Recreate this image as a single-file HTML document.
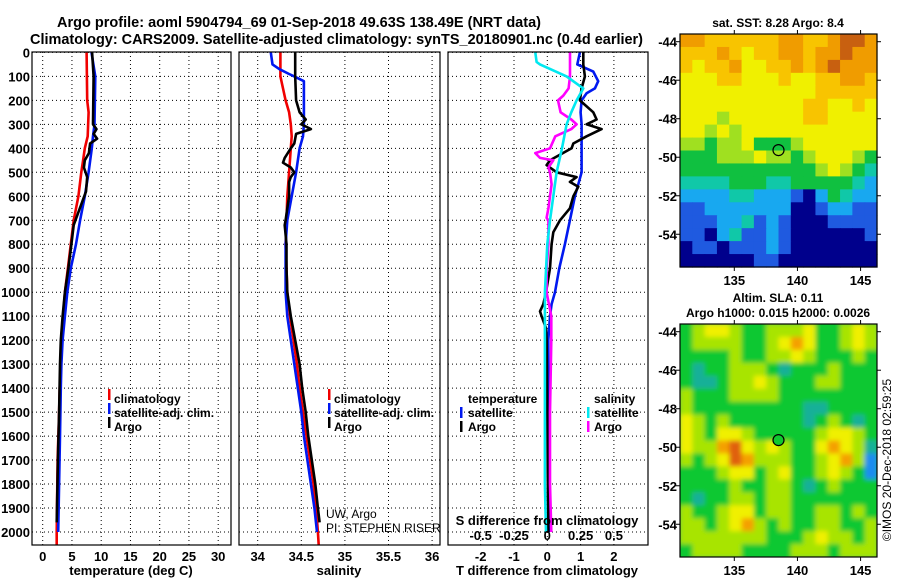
<!DOCTYPE html>
<html><head><meta charset="utf-8"><style>
html,body{margin:0;padding:0;background:#fff;}
svg{display:block;font-family:"Liberation Sans",sans-serif;}
</style></head><body>
<svg id="fig" width="900" height="580" viewBox="0 0 900 580" xmlns="http://www.w3.org/2000/svg">
<defs>
<filter id="blur" x="-5%" y="-5%" width="110%" height="110%"><feGaussianBlur stdDeviation="2.5"/></filter>
<clipPath id="slaClip"><rect x="680" y="324" width="197" height="233"/></clipPath>
</defs>
<text x="57" y="27" font-size="15" font-weight="bold" textLength="484" lengthAdjust="spacingAndGlyphs">Argo profile: aoml 5904794_69 01-Sep-2018 49.63S 138.49E (NRT data)</text>
<text x="30" y="44" font-size="15" font-weight="bold" textLength="613" lengthAdjust="spacingAndGlyphs">Climatology: CARS2009. Satellite-adjusted climatology: synTS_20180901.nc (0.4d earlier)</text>
<g id="g"></g>
</svg>
<script>
// ---------- data ----------
const depthTicks=[0,100,200,300,400,500,600,700,800,900,1000,1100,1200,1300,1400,1500,1600,1700,1800,1900,2000];
const tempTicks=[0,5,10,15,20,25,30];
const salTicks=[34,34.5,35,35.5,36];
const salTickLabels=["34","34.5","35","35.5","36"];
const tdiffTicks=[-2,-1,0,1,2];
const sdiffTicks=[-0.5,-0.25,0,0.25,0.5];
const sdiffTickLabels=["-0.5","-0.25","0","0.25","0.5"];

const tClimDepth=[0,200,250,350,400,450,500,600,700,800,900,1000,1100,1200,1400,1500,1700,1800,2000,2054];
const tClimVal=[7.5,7.6,7.85,7.7,7.2,6.9,6.6,6.1,5.3,4.8,4.3,3.8,3.5,3.2,2.9,2.8,2.55,2.5,2.4,2.4];
const tSatDepth=[0,100,300,350,400,500,600,700,800,900,1000,1100,1200,1300,1400,1600,1800,2000];
const tSatVal=[8.35,9.0,8.85,8.6,8.4,7.85,7.2,6.4,5.7,4.8,4.2,3.8,3.4,3.2,3.1,2.95,2.8,2.65];
const tArgoDepth=[0,100,300,320,340,360,380,420,450,480,520,580,640,720,800,900,1000,1100,1200,1300,1500,1700,1900,1960];
const tArgoVal=[8.45,8.7,8.6,9.2,8.7,9.3,8.1,7.9,7.2,7.05,7.6,7.4,6.5,5.3,4.9,4.4,3.8,3.4,3.1,2.95,2.8,2.6,2.45,2.4];

const sClimDepth=[0,100,150,200,250,300,350,400,500,600,700,800,900,1000,1100,1200,1300,1400,1500,1600,1700,1800,1900,2000,2054];
const sClimVal=[34.26,34.26,34.29,34.32,34.36,34.38,34.39,34.38,34.36,34.34,34.33,34.32,34.33,34.34,34.37,34.41,34.45,34.48,34.52,34.56,34.6,34.64,34.67,34.69,34.7];
const sSatDepth=[0,50,70,90,100,120,300,350,400,500,600,700,800,900,1000,1100,1200,1300,1400,1500,1600,1700,1800,1900,2000];
const sSatVal=[34.15,34.17,34.25,34.36,34.42,34.53,34.53,34.52,34.48,34.44,34.39,34.34,34.32,34.32,34.32,34.34,34.38,34.42,34.46,34.5,34.53,34.57,34.61,34.65,34.68];
const sArgoDepth=[0,100,200,250,280,300,320,340,380,400,440,460,480,500,520,540,600,650,700,720,760,800,900,1000,1100,1200,1300,1400,1500,1600,1700,1800,1900,1960];
const sArgoVal=[34.43,34.43,34.44,34.48,34.55,34.5,34.61,34.44,34.42,34.38,34.31,34.29,34.38,34.42,34.38,34.36,34.36,34.34,34.32,34.31,34.32,34.33,34.33,34.34,34.38,34.43,34.48,34.51,34.55,34.58,34.62,34.66,34.69,34.71];

const dtSatDepth=[0,50,80,120,150,170,200,250,300,500,550,600,700,800,900,1000,1050,1100,1200,1400,1700,2000];
const dtSatVal=[0.98,0.9,1.38,1.53,1.43,1.18,1.03,1.0,1.03,1.03,0.93,0.83,0.68,0.53,0.36,0.23,0.13,0.08,0.03,0.03,0.03,0.06];
const dtArgoDepth=[0,50,100,150,200,250,280,300,320,350,380,400,450,470,500,520,540,560,600,650,700,750,800,900,1000,1050,1080,1100,1150,1200,1500,2000];
const dtArgoVal=[1.08,1.08,1.13,1.03,0.98,1.38,1.48,1.18,1.63,1.18,0.78,0.73,0.08,-0.02,0.28,0.88,0.68,0.93,0.78,0.68,0.38,0.18,0.13,0.08,-0.04,-0.12,-0.22,-0.17,-0.04,-0.02,0.0,0.03];
const dsSatDepth=[0,40,50,100,150,160,200,250,300,400,500,600,700,800,1000,1200,1500,1800,2000];
const dsSatVal=[-0.09,-0.08,-0.055,0.145,0.27,0.26,0.22,0.18,0.145,0.11,0.07,0.045,0.02,0.0,-0.018,-0.018,-0.018,-0.018,-0.01];
const dsArgoDepth=[0,100,150,180,200,250,280,300,320,350,400,420,440,450,480,500,550,650,690,700,800,900,1000,1100,1200,1500,1800,2000];
const dsArgoVal=[0.17,0.17,0.16,0.12,0.08,0.1,0.18,0.22,0.18,0.06,0.02,-0.09,-0.055,0.045,0.008,0.02,0.032,0.008,-0.005,0.008,0.008,-0.005,-0.005,0.03,0.03,0.02,0.02,0.03];

// map grids (colour-class indices)
const sstGrid=[
"8877777788778998","7778767788788988","7677866778789888","6667766676677887",
"6666666666677777","6666666666776676","6665666666776666","6656566666666666",
"5545564445666666","4445556554566654","4444444444456543","3333444334444432",
"2222332221024322","1122222220012211","1112231210001111","1102311210000001",
"0110111210000000","0000001100000000"];
const slaGrid=[
"2344322333422343","2333322345422343","2222322334322232","2122333212223222",
"2112334322233222","3222333322222222","3222222222112222","4323222222123212",
"4324432222234432","4335643432245431","3234653332234530","2223442342234320",
"2222322332123222","2122332332222222","3223442332233232","3323453232233223",
"3333333222343323","2333322223332333"];
const sstColors=["#00008c","#1f5ae0","#18a8f0","#10c8a8","#10c040","#a0e020","#f0f000","#f8c400","#f09c00","#c86010"];
const slaColors=["#1a8cf0","#18b098","#10c830","#a8e400","#f0f000","#f4a000","#e06010"];
const lonTicks=[135,140,145];
const latTicks=[-44,-46,-48,-50,-52,-54];
const argoLon=138.5, argoLat=-49.63;

// ---------- helpers ----------
const NS="http://www.w3.org/2000/svg";
const G=document.getElementById('g');
function mk(tag,attrs,parent){const e=document.createElementNS(NS,tag);for(const k in attrs)e.setAttribute(k,attrs[k]);(parent||G).appendChild(e);return e;}
const yTop=52.4, yPerM=0.2398;
function yD(d){return yTop+d*yPerM;}
const boxTop=52, boxBot=545;

function panel(x0,x1,xs,ticks,labels,name){
  for(const t of ticks){
    const x=xs(t);
    const l=mk('line',{x1:x,x2:x,y1:boxTop,y2:boxBot,stroke:'#000','stroke-width':1,'stroke-dasharray':'1,3'});
    
    
  }
  for(const d of depthTicks){
    const y=yD(d);
    const l=mk('line',{x1:x0,x2:x1,y1:y,y2:y,stroke:'#000','stroke-width':1,'stroke-dasharray':'1,3'});
    
    
  }
  ticks.forEach((t,i)=>{
    const tx=mk('text',{x:xs(t),y:561,'font-size':13,'font-weight':'bold','text-anchor':'middle'});
    tx.textContent=labels[i];
    
    
  });
}
function series(dep,val,xs,color,name){
  const pts=dep.map((d,i)=>xs(val[i]).toFixed(1)+','+yD(d).toFixed(1)).join(' ');
  const p=mk('polyline',{points:pts,fill:'none',stroke:color,'stroke-width':2.6,'stroke-linejoin':'round'});
  
  
}
function frame(x0,x1,name){
  const r=mk('rect',{x:x0,y:boxTop,width:x1-x0,height:boxBot-boxTop,fill:'none',stroke:'#000','stroke-width':1.2});
  
  
}
function txt(x,y,s,size,weight,name,anchor){
  const t=mk('text',{x:x,y:y,'font-size':size,'font-weight':weight||'bold','text-anchor':anchor||'start'});
  t.textContent=s;
  
  
  return t;
}
function legendBar(x,y,color,name){
  const r=mk('rect',{x:x,y:y-10,width:2.5,height:11,fill:color});
  
  
}

// ---------- panel 1: temperature ----------
const xT=t=>42.7+t*5.85;
panel(32,231,xT,tempTicks,tempTicks.map(String),'temp');
depthTicks.forEach(d=>{ txt(30,yD(d)+5,String(d),13,'bold','depth-tick-label','end'); });
series(tClimDepth,tClimVal,xT,'#f00000','temp-climatology-line');
series(tSatDepth,tSatVal,xT,'#0018f0','temp-satellite-line');
series(tArgoDepth,tArgoVal,xT,'#000','temp-argo-line');
frame(32,231,'temp-plot-frame');
txt(131,575,'temperature (deg C)',13,'bold','temp-x-axis-title','middle');
legendBar(108,399,'#f00000','temp-legend-clim-swatch');txt(114,403,'climatology',12,'bold','temp-legend-climatology');
legendBar(108,413,'#0018f0','temp-legend-sat-swatch');txt(114,417,'satellite-adj. clim.',12,'bold','temp-legend-satellite');
legendBar(108,427,'#000','temp-legend-argo-swatch');txt(114,431,'Argo',12,'bold','temp-legend-argo');

// ---------- panel 2: salinity ----------
const xS=s=>257.7+(s-34)*87.2;
panel(239,440,xS,salTicks,salTickLabels,'sal');
series(sClimDepth,sClimVal,xS,'#f00000','sal-climatology-line');
series(sSatDepth,sSatVal,xS,'#0018f0','sal-satellite-line');
series(sArgoDepth,sArgoVal,xS,'#000','sal-argo-line');
frame(239,440,'sal-plot-frame');
txt(339,575,'salinity',13,'bold','sal-x-axis-title','middle');
legendBar(328,399,'#f00000','sal-legend-clim-swatch');txt(334,403,'climatology',12,'bold','sal-legend-climatology');
legendBar(328,413,'#0018f0','sal-legend-sat-swatch');txt(334,417,'satellite-adj. clim.',12,'bold','sal-legend-satellite');
legendBar(328,427,'#000','sal-legend-argo-swatch');txt(334,431,'Argo',12,'bold','sal-legend-argo');
txt(326,518,'UW, Argo',12,'normal','float-owner');
txt(326,532,'PI: STEPHEN RISER',12,'normal','float-pi');

// ---------- panel 3: differences ----------
const xDT=t=>547.3+t*33.3;
const xDS=s=>547.3+s*133.3;
panel(448,648,xDT,tdiffTicks,tdiffTicks.map(String),'diff');
series(dtSatDepth,dtSatVal,xDT,'#0018f0','diff-temp-satellite-line');
series(dtArgoDepth,dtArgoVal,xDT,'#000','diff-temp-argo-line');
series(dsArgoDepth,dsArgoVal,xDS,'#ff00ff','diff-sal-argo-line');
series(dsSatDepth,dsSatVal,xDS,'#00e8f0','diff-sal-satellite-line');
frame(448,648,'diff-plot-frame');
txt(547,575,'T difference from climatology',13,'bold','diff-t-axis-title','middle');
txt(547,525,'S difference from climatology',13,'bold','diff-s-axis-title','middle');
sdiffTicks.forEach((s,i)=>{txt(xDS(s),540,sdiffTickLabels[i],13,'bold','diff-s-tick-label','middle');});
txt(468,403,'temperature',12,'bold','diff-legend-temp-header');
legendBar(460,417,'#0018f0','diff-legend-tsat-swatch');txt(468,417,'satellite',12,'bold','diff-legend-temp-satellite');
legendBar(460,431,'#000','diff-legend-targo-swatch');txt(468,431,'Argo',12,'bold','diff-legend-temp-argo');
txt(594,403,'salinity',12,'bold','diff-legend-sal-header');
legendBar(587,417,'#00e8f0','diff-legend-ssat-swatch');txt(594,417,'satellite',12,'bold','diff-legend-sal-satellite');
legendBar(587,431,'#ff00ff','diff-legend-sargo-swatch');txt(594,431,'Argo',12,'bold','diff-legend-sal-argo');

// ---------- maps ----------
function drawMap(top,grid,colors,name,markerFill,smooth){
  const x0=680,x1=877,y0=top,y1=top+233;
  const lonL=130.7,lonR=146.3,latT=-43.6,latB=-55.7;
  const mx=lon=>x0+(lon-lonL)/(lonR-lonL)*(x1-x0);
  const my=lat=>y0+(latT-lat)/(latT-latB)*(y1-y0);
  const rows=grid.length,cols=grid[0].length;
  const cw=(x1-x0)/cols,ch=(y1-y0)/rows;
  let holder=G;
  if(smooth){
    const outer=mk('g',{'clip-path':'url(#slaClip)'});
    
    
    holder=mk('g',{filter:'url(#blur)'},outer);
    const bg=mk('rect',{x:x0-10,y:y0-10,width:x1-x0+20,height:y1-y0+20,fill:colors[2]},holder);
    
    
  }
  for(let r=0;r<rows;r++)for(let c=0;c<cols;c++){
    const v=+grid[r][c];
    const cell=mk('rect',{x:(x0+c*cw).toFixed(2),y:(y0+r*ch).toFixed(2),width:(cw+0.6).toFixed(2),height:(ch+0.6).toFixed(2),fill:colors[v]},holder);
    
    
  }
  const fr=mk('rect',{x:x0,y:y0,width:x1-x0,height:y1-y0,fill:'none',stroke:'#000','stroke-width':1.2});
  
  
  for(const lon of lonTicks){
    const x=mx(lon);
    const a=mk('line',{x1:x,x2:x,y1:y0-4,y2:y0,stroke:'#000'});
    
    
    const b=mk('line',{x1:x,x2:x,y1:y1,y2:y1+4,stroke:'#000'});
    
    
    txt(x,y1+18,String(lon),13,'bold',name+'-lon-label','middle');
  }
  for(const lat of latTicks){
    const y=my(lat);
    const a=mk('line',{x1:x0-4,x2:x0,y1:y,y2:y,stroke:'#000'});
    
    
    const b=mk('line',{x1:x1,x2:x1+4,y1:y,y2:y,stroke:'#000'});
    
    
    txt(x0-3,y+5,String(lat),13,'bold',name+'-lat-label','end');
  }
  const m=mk('circle',{cx:mx(argoLon),cy:my(argoLat),r:5.5,fill:markerFill,stroke:'#000','stroke-width':1.2});
  
  
}
drawMap(34,sstGrid,sstColors,'sst-map','none',false);
txt(778,27,'sat. SST: 8.28 Argo: 8.4',12,'bold','sst-map-title','middle');
drawMap(324,slaGrid,slaColors,'sla-map','#10c830',true);
txt(778,302,'Altim. SLA: 0.11',12,'bold','sla-map-title','middle');
txt(778,317,'Argo h1000: 0.015 h2000: 0.0026',12,'bold','sla-map-subtitle','middle');
const cr=txt(0,0,'©IMOS 20-Dec-2018 02:59:25',12,'normal','imos-timestamp','middle');
cr.setAttribute('transform','translate(891,460) rotate(-90)');
</script>
</body></html>
